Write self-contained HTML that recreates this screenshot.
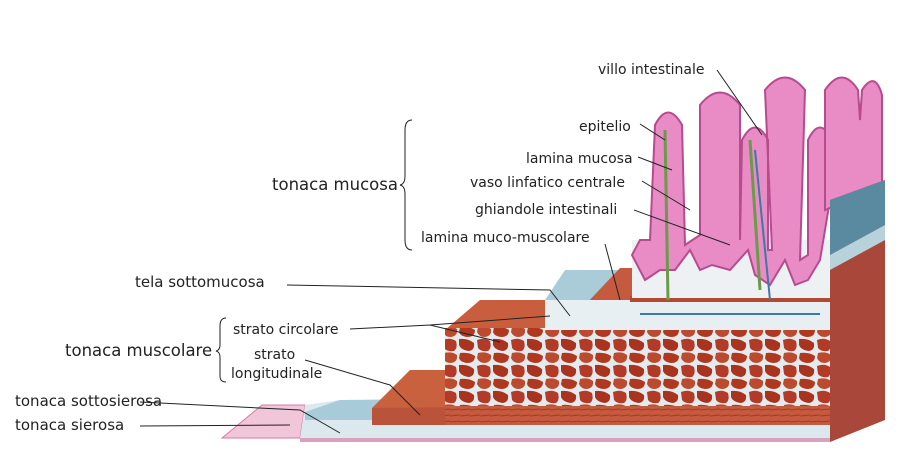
<!DOCTYPE html>
<html><head><meta charset="utf-8"><style>
body{margin:0;background:#fff;}
svg{display:block;}
text{font-family:"DejaVu Sans","Liberation Sans",sans-serif;fill:#222;}
</style></head><body>
<svg width="900" height="473" viewBox="0 0 900 473" xmlns="http://www.w3.org/2000/svg">
<defs>
<pattern id="musc" width="34" height="26" patternUnits="userSpaceOnUse">
<rect width="34" height="26" fill="#e4ebef"/>
<path d="M1,2 Q8,-1 14,3 Q16,10 12,13 Q5,14 2,10 Z" fill="#b23a26"/>
<path d="M17,1 Q26,0 32,5 Q33,12 27,13 Q19,12 17,7 Z" fill="#a8331f"/>
<path d="M2,15 Q10,13 15,17 Q16,24 9,25 Q3,25 1,20 Z" fill="#bd4a2f"/>
<path d="M18,15 Q27,14 33,18 Q33,25 25,25 Q18,24 17,20 Z" fill="#b0381f"/>
</pattern>
<pattern id="fib" width="10" height="6" patternUnits="userSpaceOnUse">
<rect width="10" height="6" fill="#c65a3e"/>
<line x1="0" y1="2" x2="10" y2="1" stroke="#a33a26" stroke-width="1"/>
</pattern>
</defs>
<!-- serosa / bottom -->
<polygon points="222,438 262,405 305,405 300,438" fill="#f1c6d8" stroke="#d77aa3"/>
<polygon points="300,438 305,405 340,400 420,398 830,398 830,440 300,440" fill="#dbe8ee"/>
<polygon points="305,412 340,400 400,400 380,420 305,420" fill="#a7cbd8"/>
<rect x="300" y="438" width="530" height="4" fill="#d9a1bc"/>
<!-- longitudinal muscle -->
<polygon points="410,370 445,370 445,408 372,408" fill="#c9613f"/>
<polygon points="372,408 830,404 830,425 372,425" fill="#b9533a"/>
<rect x="445" y="405" width="385" height="20" fill="url(#fib)"/>
<!-- circular muscle step -->
<polygon points="445,330 480,300 545,300 545,330" fill="#c95e3f"/>
<rect x="445" y="328" width="385" height="78" fill="url(#musc)"/>
<!-- submucosa -->
<polygon points="545,300 565,270 640,270 640,305" fill="#a9ccd8"/>
<polygon points="585,305 620,268 640,268 640,305" fill="#c65a3e"/>
<rect x="545" y="300" width="285" height="30" fill="#e8eff3"/>
<line x1="640" y1="314" x2="820" y2="314" stroke="#3d78a8" stroke-width="2"/>
<rect x="630" y="296" width="200" height="6" fill="#b24a32"/>
<!-- mucosa -->
<rect x="632" y="240" width="198" height="58" fill="#eef1f3"/>
<g fill="#e98bc4" stroke="#b64b8e" stroke-width="2">
<path d="M632,255 L640,240 L650,240 L655,125 Q668,100 682,125 L685,245 L700,235 L700,105 Q720,80 740,105 L740,240 L742,140 Q755,115 768,140 L768,250 L772,250 L765,90 Q785,65 805,90 L800,260 L808,255 L808,140 Q820,115 832,140 L830,200 L820,260 L808,280 L795,285 L785,260 L770,285 L755,275 L748,250 L730,270 L712,265 L700,270 L690,250 L675,270 L660,270 L645,280 Z"/>
<path d="M825,210 L825,90 Q842,65 858,90 L860,120 L862,90 Q875,70 882,95 L882,185 L860,195 Z"/>
</g>
<path d="M665,130 L668,300 M750,140 L760,290" stroke="#6a9a4a" stroke-width="3" fill="none"/>
<path d="M755,150 L770,300" stroke="#3d78a8" stroke-width="2" fill="none"/>
<!-- right side face -->
<polygon points="830,200 885,180 885,420 830,442" fill="#a8473a"/>
<polygon points="830,200 885,180 885,225 830,255" fill="#5a8aa0"/>
<polygon points="830,255 885,225 885,240 830,270" fill="#b8d2dc"/>
<!-- labels -->
<g font-size="14">
<text x="598" y="74">villo intestinale</text>
<text x="579" y="131">epitelio</text>
<text x="526" y="163">lamina mucosa</text>
<text x="470" y="187">vaso linfatico centrale</text>
<text x="475" y="214">ghiandole intestinali</text>
<text x="421" y="242">lamina muco-muscolare</text>
<text x="135" y="287" font-size="15">tela sottomucosa</text>
<text x="233" y="334">strato circolare</text>
<text x="254" y="359">strato</text>
<text x="231" y="378">longitudinale</text>
<text x="15" y="406" font-size="15">tonaca sottosierosa</text>
<text x="15" y="430" font-size="15">tonaca sierosa</text>
</g>
<text x="272" y="190" font-size="16.5">tonaca mucosa</text>
<text x="65" y="356" font-size="16.5">tonaca muscolare</text>
<g stroke="#222" stroke-width="1" fill="none">
<path d="M412,120 Q405,120 405,130 L405,176 Q405,184 400,185 Q405,186 405,194 L405,240 Q405,250 412,250"/>
<path d="M226,318 Q220,318 220,326 L220,345 Q220,350 216,351 Q220,352 220,357 L220,376 Q220,382 226,382"/>
<path d="M717,70 L762,135"/>
<path d="M640,124 L665,140"/>
<path d="M638,157 L672,170"/>
<path d="M642,181 L690,210"/>
<path d="M634,210 L730,245"/>
<path d="M605,244 L620,300"/>
<path d="M287,285 L550,290 L570,316"/>
<path d="M350,329 L430,325 L500,342 M430,325 L550,316"/>
<path d="M305,360 L390,385 L420,415"/>
<path d="M140,402 L300,410 L340,433"/>
<path d="M140,426 L290,425"/>
</g>
</svg>
</body></html>
